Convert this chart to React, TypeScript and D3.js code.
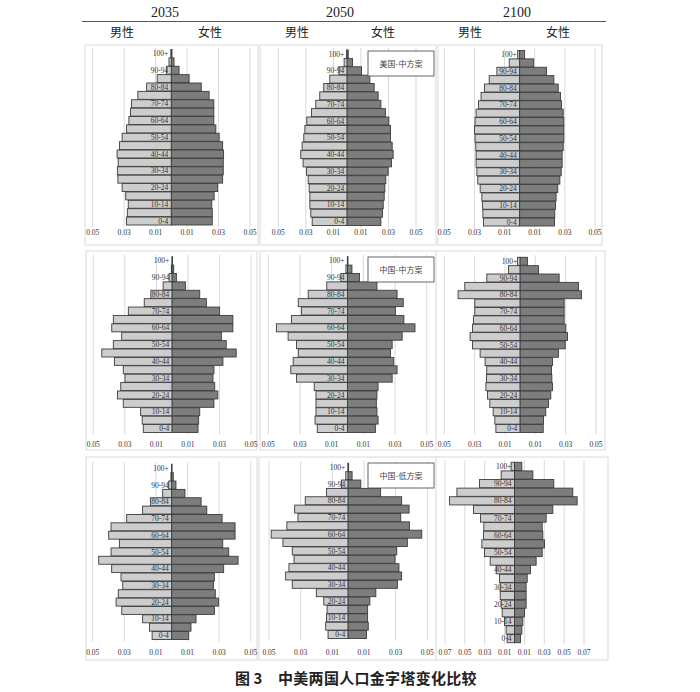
import * as d3 from "d3";

// age groups, youngest first
const ageGroups = [
  "0-4", "5-9", "10-14", "15-19", "20-24", "25-29", "30-34", "35-39", "40-44", "45-49",
  "50-54", "55-59", "60-64", "65-69", "70-74", "75-79", "80-84", "85-89", "90-94", "95-99", "100+",
];
const labeledAges = ["0-4", "10-14", "20-24", "30-34", "40-44", "50-54", "60-64", "70-74", "80-84", "90-94", "100+"];

const years = ["2035", "2050", "2100"];
const sexLabels = ["男性", "女性"];
const scenarioLabels = ["美国-中方案", "中国-中方案", "中国-低方案"];
const caption = ["图 3", "中美两国人口金字塔变化比较"];

// share of total population, 0-4 ... 100+
const usMale2035 = [0.0285, 0.028, 0.0274, 0.029, 0.0313, 0.034, 0.0343, 0.0338, 0.0345, 0.033, 0.0313, 0.0285, 0.027, 0.026, 0.0253, 0.0213, 0.0157, 0.009, 0.0032, 0.0015, 0.0003];
const usFemale2035 = [0.026, 0.026, 0.0257, 0.0272, 0.0294, 0.0326, 0.033, 0.033, 0.0332, 0.0326, 0.0304, 0.0283, 0.027, 0.027, 0.027, 0.024, 0.019, 0.0113, 0.0049, 0.0017, 0.0004];
const usMale2050 = [0.0254, 0.0264, 0.0271, 0.0271, 0.0276, 0.0283, 0.0295, 0.032, 0.0337, 0.0327, 0.0315, 0.0307, 0.0293, 0.0259, 0.0228, 0.0199, 0.017, 0.0126, 0.006, 0.0022, 0.0004];
const usFemale2050 = [0.0245, 0.0257, 0.0262, 0.0269, 0.0274, 0.0281, 0.0298, 0.0322, 0.0334, 0.0327, 0.0315, 0.0315, 0.0303, 0.0278, 0.0245, 0.0225, 0.0196, 0.0165, 0.0104, 0.0039, 0.0008];
const usMale2100 = [0.024, 0.0244, 0.0247, 0.0251, 0.0262, 0.0278, 0.0284, 0.0289, 0.0289, 0.0291, 0.0296, 0.03, 0.0296, 0.0289, 0.0273, 0.0256, 0.0233, 0.0202, 0.0151, 0.0069, 0.0013];
const usFemale2100 = [0.0231, 0.0233, 0.0238, 0.0242, 0.0253, 0.0267, 0.0276, 0.0282, 0.0282, 0.0289, 0.0293, 0.0293, 0.0293, 0.0289, 0.0278, 0.0271, 0.0256, 0.0227, 0.0178, 0.0093, 0.0033];

const cnMidMale2035 = [0.0183, 0.019, 0.02, 0.031, 0.0347, 0.0326, 0.0299, 0.031, 0.0366, 0.0446, 0.0373, 0.032, 0.0383, 0.0373, 0.0278, 0.0177, 0.0135, 0.0057, 0.0019, 0.0005, 0.0001];
const cnMidFemale2035 = [0.0164, 0.0168, 0.0175, 0.0265, 0.029, 0.027, 0.0259, 0.0265, 0.0322, 0.0406, 0.0343, 0.0312, 0.0385, 0.0385, 0.0301, 0.0217, 0.0175, 0.0084, 0.0027, 0.001, 0.0002];
const cnMidMale2050 = [0.0191, 0.0205, 0.0199, 0.0199, 0.0199, 0.021, 0.0322, 0.0358, 0.0343, 0.0311, 0.0322, 0.0375, 0.0449, 0.0354, 0.029, 0.0311, 0.0248, 0.0131, 0.0042, 0.001, 0.0001];
const cnMidFemale2050 = [0.0176, 0.0193, 0.0186, 0.0182, 0.0186, 0.0193, 0.0282, 0.0313, 0.0292, 0.0271, 0.0282, 0.0345, 0.0426, 0.0356, 0.0303, 0.0352, 0.0313, 0.0186, 0.0076, 0.0028, 0.0003];
const cnMidMale2100 = [0.016, 0.0167, 0.0178, 0.02, 0.0215, 0.0226, 0.0222, 0.022, 0.0231, 0.0264, 0.0314, 0.033, 0.0314, 0.0308, 0.0299, 0.0299, 0.0409, 0.0365, 0.022, 0.0077, 0.0018];
const cnMidFemale2100 = [0.0152, 0.0154, 0.0169, 0.0187, 0.0202, 0.0213, 0.0209, 0.0207, 0.0213, 0.0253, 0.0297, 0.0312, 0.0301, 0.029, 0.029, 0.029, 0.0404, 0.0385, 0.0257, 0.0121, 0.0048];

const cnLowMale2035 = [0.0124, 0.0141, 0.0184, 0.0316, 0.0352, 0.0338, 0.031, 0.0321, 0.038, 0.0462, 0.0384, 0.0331, 0.0399, 0.0384, 0.0285, 0.0184, 0.0135, 0.0057, 0.0019, 0.0005, 0.0001];
const cnLowFemale2035 = [0.0108, 0.0122, 0.0154, 0.027, 0.0297, 0.0276, 0.0264, 0.027, 0.0329, 0.042, 0.0361, 0.0323, 0.0401, 0.0401, 0.0319, 0.0222, 0.0186, 0.0084, 0.0027, 0.001, 0.0002];
const cnLowMale2050 = [0.0127, 0.0142, 0.0137, 0.0133, 0.0154, 0.0201, 0.0353, 0.0395, 0.0374, 0.0342, 0.0353, 0.0412, 0.0486, 0.0387, 0.0317, 0.0338, 0.0271, 0.0137, 0.0042, 0.0015, 0.0001];
const cnLowFemale2050 = [0.0116, 0.0127, 0.0123, 0.0123, 0.0137, 0.0175, 0.0311, 0.0338, 0.0321, 0.0296, 0.0307, 0.0374, 0.0465, 0.0387, 0.0332, 0.0385, 0.0338, 0.0205, 0.008, 0.0025, 0.0003];
const cnLowMale2100 = [0.0074, 0.0084, 0.0101, 0.0124, 0.0134, 0.0144, 0.0144, 0.0151, 0.0185, 0.0245, 0.0302, 0.0329, 0.0312, 0.0309, 0.0342, 0.0413, 0.0654, 0.058, 0.0352, 0.0134, 0.0034];
const cnLowFemale2100 = [0.006, 0.0074, 0.0084, 0.0101, 0.0117, 0.0117, 0.0117, 0.0128, 0.0161, 0.0218, 0.0279, 0.0302, 0.0285, 0.0279, 0.0319, 0.0386, 0.0631, 0.0587, 0.0396, 0.0185, 0.0074];

// layout of each small chart: frame box, x pixel range of the axis, bar area top/bottom, tick label y
const panels = [
  { male: usMale2035, female: usFemale2035, max: 0.05, box: [85, 45, 258, 245], xr: [92.7, 250], yr: [49.5, 225], ty: 235 },
  { male: usMale2050, female: usFemale2050, max: 0.05, box: [260, 45, 436, 245], xr: [278.3, 416], yr: [50, 225.5], ty: 235, legend: 0 },
  { male: usMale2100, female: usFemale2100, max: 0.05, box: [438, 45, 602, 245], xr: [444.3, 595], yr: [50.5, 226], ty: 235 },
  { male: cnMidMale2035, female: cnMidFemale2035, max: 0.05, box: [86, 251, 257, 450], xr: [93.3, 251], yr: [256.7, 432.5], ty: 447 },
  { male: cnMidMale2050, female: cnMidFemale2050, max: 0.05, box: [260, 251, 437, 450], xr: [268.3, 426.7], yr: [256.7, 432.5], ty: 447, legend: 1 },
  { male: cnMidMale2100, female: cnMidFemale2100, max: 0.05, box: [436, 251, 605, 450], xr: [444.3, 596], yr: [257.3, 432.5], ty: 447 },
  { male: cnLowMale2035, female: cnLowFemale2035, max: 0.05, box: [86, 457, 257, 660], xr: [92.7, 250.7], yr: [464.3, 639.5], ty: 655 },
  { male: cnLowMale2050, female: cnLowFemale2050, max: 0.05, box: [259, 457, 437, 660], xr: [269, 427.3], yr: [463.3, 638.5], ty: 655, legend: 2 },
  { male: cnLowMale2100, female: cnLowFemale2100, max: 0.07, box: [436, 457, 608, 660], xr: [445, 584], yr: [462.3, 642.7], ty: 655 },
];

const serif = "'Liberation Serif', 'Times New Roman', serif";
const cjk = "'Noto Sans CJK SC', sans-serif";

function Pyramid({ p }: { p: any }) {
  const x = d3.scaleLinear().domain([-p.max, p.max]).range(p.xr);
  const y = d3.scaleBand<string>().domain([...ageGroups].reverse()).range(p.yr).paddingInner(0.05);
  const ticks = d3.range(-p.max, p.max + 0.0001, 0.02);
  const [bx0, by0, bx1, by1] = p.box;
  const x0 = x(0);
  return (
    <g>
      <rect x={bx0} y={by0} width={bx1 - bx0} height={by1 - by0} fill="#fff" stroke="#d9d9d9" />
      {ticks.map((t: number, i: number) => (
        <g key={i}>
          <line x1={x(t)} x2={x(t)} y1={p.yr[0] - 2} y2={p.yr[1] + 2} stroke="#d9d9d9" strokeWidth={1} />
          <text x={x(t)} y={p.ty} textAnchor="middle" fontSize={7.5} fontFamily={serif} fill="#333">
            {d3.format(".2f")(Math.abs(t))}
          </text>
        </g>
      ))}
      {ageGroups.map((a, i) => (
        <g key={a}>
          <rect x={x(-p.male[i])} y={y(a)} width={x0 - x(-p.male[i])} height={y.bandwidth()}
            fill="#cdcdcd" stroke="#3c3c3c" strokeWidth={0.9} />
          <rect x={x0} y={y(a)} width={x(p.female[i]) - x0} height={y.bandwidth()}
            fill="#7d7d7d" stroke="#3c3c3c" strokeWidth={0.9} />
        </g>
      ))}
      {labeledAges.map((a) => (
        <text key={a} x={x0 - 3} y={(y(a) as number) + y.bandwidth() / 2 + 2.6} textAnchor="end"
          fontSize={7.5} fontFamily={serif} fill="#333">{a}</text>
      ))}
      {p.legend !== undefined && (
        <g>
          <rect x={368} y={by0 + 6} width={66} height={25} fill="#fff" stroke="#555" strokeWidth={0.9} />
          <text x={401} y={by0 + 21.5} textAnchor="middle" fontSize={8} fontFamily={cjk} fill="#444">
            {scenarioLabels[p.legend]}
          </text>
        </g>
      )}
    </g>
  );
}

export default function App() {
  const yearX = [165, 340, 517];
  const maleX = [122, 297, 470];
  const femaleX = [210, 383, 558];
  return (
    <svg width={700} height={692} style={{ position: "absolute", left: 0, top: 0, background: "#fff" }}>
      {years.map((yr, i) => (
        <g key={yr}>
          <text x={yearX[i]} y={17} textAnchor="middle" fontSize={14} fontFamily={serif} fill="#222">{yr}</text>
          <text x={maleX[i]} y={36.5} textAnchor="middle" fontSize={12} fontFamily={cjk} fill="#222">{sexLabels[0]}</text>
          <text x={femaleX[i]} y={36.5} textAnchor="middle" fontSize={12} fontFamily={cjk} fill="#222">{sexLabels[1]}</text>
        </g>
      ))}
      <line x1={82} x2={606} y1={21.5} y2={21.5} stroke="#555" strokeWidth={1} />
      {panels.map((p, i) => <Pyramid key={i} p={p} />)}
      <text x={235} y={684} fontSize={15} fontWeight="bold" fontFamily={cjk} fill="#222">{caption[0]}</text>
      <text x={278} y={684} fontSize={15} fontWeight="bold" fontFamily={cjk} fill="#222" letterSpacing={0.3}>{caption[1]}</text>
    </svg>
  );
}
